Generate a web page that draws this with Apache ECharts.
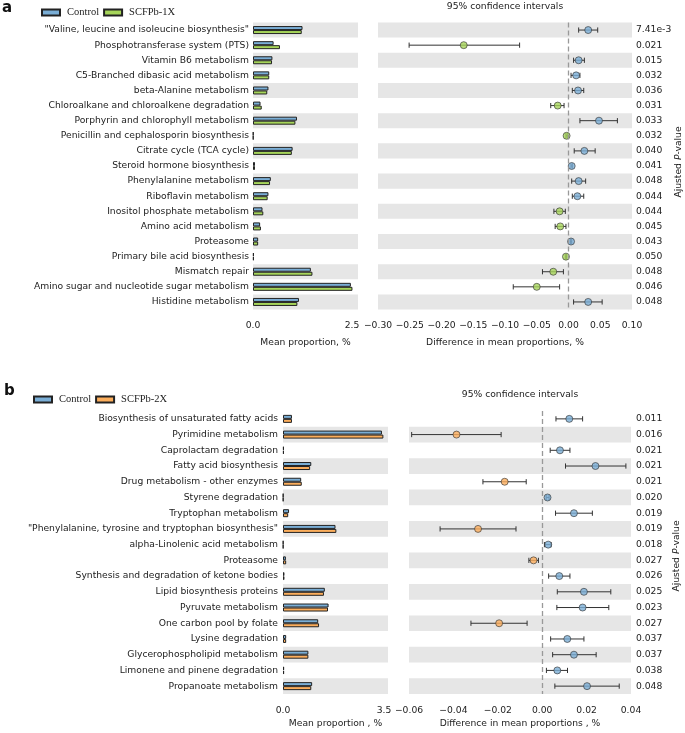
<!DOCTYPE html>
<html lang="en">
<head>
	<meta charset="UTF-8">
	<title>STAMP extended error bar</title>
	<style>
		html, body { margin: 0; padding: 0; background: #fff; }
		#chart { width: 685px; height: 733px; }
	</style>
</head>
<body>
	<div id="chart"></div>
</body>
<script src="https://cdn.jsdelivr.net/npm/echarts@6/dist/echarts.min.js"></script>
<script>

    //panel a
    var namesA = ['"Valine, leucine and isoleucine biosynthesis"', 'Phosphotransferase system (PTS)', 'Vitamin B6 metabolism',
        'C5-Branched dibasic acid metabolism', 'beta-Alanine metabolism', 'Chloroalkane and chloroalkene degradation',
        'Porphyrin and chlorophyll metabolism', 'Penicillin and cephalosporin biosynthesis', 'Citrate cycle (TCA cycle)',
        'Steroid hormone biosynthesis', 'Phenylalanine metabolism', 'Riboflavin metabolism', 'Inositol phosphate metabolism',
        'Amino acid metabolism', 'Proteasome', 'Primary bile acid biosynthesis', 'Mismatch repair',
        'Amino sugar and nucleotide sugar metabolism', 'Histidine metabolism'];
    var ctrlA = [1.25, 0.52, 0.49, 0.41, 0.39, 0.19, 1.11, 0.01, 1.00, 0.05, 0.45, 0.39, 0.24, 0.18, 0.13, 0.02, 1.46, 2.47, 1.16];
    var trtA  = [1.23, 0.68, 0.48, 0.41, 0.36, 0.22, 1.07, 0.01, 0.98, 0.05, 0.43, 0.37, 0.26, 0.20, 0.13, 0.02, 1.50, 2.51, 1.12];
    var meanA = [0.031, -0.165, 0.016, 0.012, 0.015, -0.017, 0.048, -0.003, 0.025, 0.005, 0.016, 0.014, -0.014, -0.013, 0.004, -0.004, -0.024, -0.050, 0.031];
    var loA   = [0.016, -0.251, 0.008, 0.004, 0.006, -0.028, 0.018, -0.004, 0.009, 0.004, 0.005, 0.006, -0.023, -0.021, 0.003, -0.005, -0.041, -0.087, 0.008];
    var hiA   = [0.046, -0.077, 0.025, 0.018, 0.024, -0.007, 0.077, -0.002, 0.042, 0.006, 0.027, 0.024, -0.005, -0.004, 0.005, -0.003, -0.008, -0.014, 0.053];
    var pA    = ['7.41e-3', '0.021', '0.015', '0.032', '0.036', '0.031', '0.033', '0.032', '0.040', '0.041',
        '0.048', '0.044', '0.044', '0.045', '0.043', '0.050', '0.048', '0.046', '0.048'];

    //panel b
    var namesB = ['Biosynthesis of unsaturated fatty acids', 'Pyrimidine metabolism', 'Caprolactam degradation',
        'Fatty acid biosynthesis', 'Drug metabolism - other enzymes', 'Styrene degradation', 'Tryptophan metabolism',
        '"Phenylalanine, tyrosine and tryptophan biosynthesis"', 'alpha-Linolenic acid metabolism', 'Proteasome',
        'Synthesis and degradation of ketone bodies', 'Lipid biosynthesis proteins', 'Pyruvate metabolism',
        'One carbon pool by folate', 'Lysine degradation', 'Glycerophospholipid metabolism',
        'Limonene and pinene degradation', 'Propanoate metabolism'];
    var ctrlB = [0.31, 3.43, 0.03, 0.98, 0.63, 0.01, 0.21, 1.82, 0.01, 0.10, 0.05, 1.45, 1.58, 1.22, 0.11, 0.88, 0.04, 1.01];
    var trtB  = [0.31, 3.48, 0.03, 0.94, 0.65, 0.01, 0.18, 1.85, 0.01, 0.11, 0.05, 1.42, 1.56, 1.25, 0.11, 0.88, 0.04, 0.98];
    var meanB = [0.0122, -0.0386, 0.0080, 0.0240, -0.0169, 0.0024, 0.0143, -0.0289, 0.0027, -0.0039, 0.0077, 0.0188, 0.0182, -0.0194, 0.0113, 0.0143, 0.0068, 0.0202];
    var loB   = [0.0062, -0.0588, 0.0036, 0.0105, -0.0267, 0.0018, 0.0060, -0.0460, 0.0010, -0.0060, 0.0029, 0.0068, 0.0066, -0.0321, 0.0038, 0.0047, 0.0019, 0.0057];
    var hiB   = [0.0182, -0.0185, 0.0125, 0.0377, -0.0072, 0.0031, 0.0226, -0.0118, 0.0040, -0.0017, 0.0125, 0.0309, 0.0300, -0.0068, 0.0188, 0.0243, 0.0114, 0.0347];
    var pB    = ['0.011', '0.016', '0.021', '0.021', '0.021', '0.020', '0.019', '0.019', '0.018',
        '0.027', '0.026', '0.025', '0.023', '0.027', '0.037', '0.037', '0.038', '0.048'];

    var blue = '#7aaed6', green = '#a6d55a', orange = '#fcae5c';
    var band = '#e6e6e6';
    var font = 'DejaVu Sans';
    var useMarkLine = true;

    //error bar with caps (and the dashed zero line when markLine is off)
    function ciItem(params, api) {
        var a = api.coord([api.value(0), api.value(2)]);
        var b = api.coord([api.value(1), api.value(2)]);
        var h = 2.6;
        var st = {stroke: '#333', lineWidth: 1};
        var kids = [
            {type: 'line', shape: {x1: a[0], y1: a[1], x2: b[0], y2: b[1]}, style: st},
            {type: 'line', shape: {x1: a[0], y1: a[1] - h, x2: a[0], y2: a[1] + h}, style: st},
            {type: 'line', shape: {x1: b[0], y1: b[1] - h, x2: b[0], y2: b[1] + h}, style: st}
        ];
        if (!useMarkLine) {
            var z = api.coord([0, api.value(2)]);
            var rh = api.size([0, 1])[1] / 2;
            kids.unshift({type: 'line', shape: {x1: z[0], y1: z[1] - rh, x2: z[0], y2: z[1] + rh},
                style: {stroke: '#999', lineWidth: 1.3, lineDash: [5, 3]}});
        }
        return {type: 'group', children: kids};
    }

    function fmt2(v) {
        if (Math.abs(v) < 1e-9) return '0.00';
        return (v < 0 ? '\u2212' : '') + Math.abs(v).toFixed(2);
    }

    var axisGray = {lineStyle: {color: '#999', width: 1.3}};
    var labelStyle = {color: '#222', fontSize: 9.2, fontFamily: font};

    function barX(grid, max, ticks, name, gap) {
        return {
            type: 'value', gridIndex: grid, min: 0, max: max, offset: 7,
            axisLine: axisGray,
            axisTick: {inside: true, length: 4, lineStyle: {color: '#999'}, customValues: ticks},
            axisLabel: Object.assign({margin: 5, customValues: ticks, formatter: function (v) { return v.toFixed(1); }}, labelStyle),
            splitLine: {show: false},
            name: name, nameLocation: 'middle', nameGap: gap,
            nameTextStyle: {color: '#222', fontSize: 9.2, fontFamily: font}
        };
    }

    function ciX(grid, min, max, step, name, gap) {
        return {
            type: 'value', gridIndex: grid, min: min, max: max, interval: step, offset: 7,
            axisLine: axisGray,
            axisTick: {inside: true, length: 4, lineStyle: {color: '#999'}},
            axisLabel: Object.assign({margin: 5, formatter: fmt2}, labelStyle),
            splitLine: {show: false},
            name: name, nameLocation: 'middle', nameGap: gap,
            nameTextStyle: {color: '#222', fontSize: 9.2, fontFamily: font}
        };
    }

    function catY(grid, data, colors, showLabel, margin) {
        return {
            type: 'category', gridIndex: grid, data: data, inverse: true,
            axisLine: {show: false}, axisTick: {show: false},
            axisLabel: Object.assign({show: showLabel, margin: margin, interval: 0}, labelStyle),
            splitArea: {show: true, areaStyle: {color: colors}}
        };
    }

    function pY(grid, data, margin) {
        return {
            type: 'category', gridIndex: grid, data: data, inverse: true, position: 'right',
            axisLine: {show: false}, axisTick: {show: false},
            axisLabel: Object.assign({margin: margin, interval: 0, align: 'left'}, labelStyle)
        };
    }

    function bars(name, data, color, xi, yi) {
        return {
            name: name, type: 'bar', xAxisIndex: xi, yAxisIndex: yi, data: data,
            barWidth: 4, barGap: '0%', silent: true,
            itemStyle: {color: color, borderColor: '#222', borderWidth: 1}
        };
    }

    function ciSeries(lo, hi, mean, neg, xi, yi) {
        var err = lo.map(function (v, i) { return [v, hi[i], i]; });
        var pts = mean.map(function (v, i) {
            return {value: [v, i], itemStyle: {color: v < 0 ? neg : blue}};
        });
        var sc = {
            type: 'scatter', xAxisIndex: xi, yAxisIndex: yi, data: pts, silent: true,
            symbolSize: 7, z: 3,
            itemStyle: {borderColor: '#333', borderWidth: 0.8}
        };
        if (useMarkLine) {
            sc.markLine = {
                silent: true, symbol: 'none', label: {show: false}, animation: false,
                lineStyle: {color: '#999', type: [5, 3], width: 1.3},
                data: [{xAxis: 0}]
            };
        }
        return [{
            type: 'custom', xAxisIndex: xi, yAxisIndex: yi, data: err, silent: true,
            encode: {x: [0, 1], y: 2}, renderItem: ciItem
        }, sc];
    }

    function yTitle(x, y) {
        return {
            type: 'text', x: x, y: y, rotation: Math.PI / 2,
            style: {
                text: '{a|Ajusted }{i|P}{a|-value}', align: 'center', verticalAlign: 'middle',
                rich: {
                    a: {fontSize: 9.2, fontFamily: font, fill: '#222'},
                    i: {fontSize: 9.2, fontFamily: font, fontStyle: 'italic', fill: '#222'}
                }
            }
        };
    }

    function buildOption() {
        return {
            animation: false,
            grid: [
                {left: 253, top: 22.5, width: 105, height: 287},
                {left: 378, top: 22.5, width: 254, height: 287},
                {left: 283, top: 411, width: 105, height: 283},
                {left: 409, top: 411, width: 222, height: 283}
            ],
            legend: [{
                data: ['Control', 'SCFPb-1X'], left: 36, top: 2, icon: 'rect', itemWidth: 18, itemHeight: 6,
                itemGap: 4, selectedMode: false,
                textStyle: {fontFamily: 'Liberation Serif', fontSize: 10.5, color: '#222', padding: [0, 0, 0, 2]}
            }, {
                data: ['Control', 'SCFPb-2X'], left: 28, top: 389, icon: 'rect', itemWidth: 18, itemHeight: 6,
                itemGap: 4, selectedMode: false,
                textStyle: {fontFamily: 'Liberation Serif', fontSize: 10.5, color: '#222', padding: [0, 0, 0, 2]}
            }],
            xAxis: [
                barX(0, 2.65, [0, 2.5], 'Mean proportion, %', 22),
                ciX(1, -0.30, 0.10, 0.05, 'Difference in mean proportions, %', 22),
                barX(2, 3.64, [0, 3.5], 'Mean proportion , %', 18),
                ciX(3, -0.06, 0.04, 0.02, 'Difference in mean proportions , %', 18)
            ],
            yAxis: [
                catY(0, namesA, [band, 'rgba(0,0,0,0)'], true, 4),
                catY(1, namesA, [band, 'rgba(0,0,0,0)'], false, 4),
                pY(1, pA, 4),
                catY(2, namesB, ['rgba(0,0,0,0)', band], true, 5),
                catY(3, namesB, ['rgba(0,0,0,0)', band], false, 4),
                pY(3, pB, 5)
            ],
            series: [
                bars('Control', ctrlA, blue, 0, 0),
                bars('SCFPb-1X', trtA, green, 0, 0),
                bars('Control', ctrlB, blue, 2, 3),
                bars('SCFPb-2X', trtB, orange, 2, 3)
            ].concat(ciSeries(loA, hiA, meanA, green, 1, 1))
             .concat(ciSeries(loB, hiB, meanB, orange, 3, 4)),
            graphic: [
                {type: 'text', x: 2, y: 1, style: {text: 'a', fontSize: 15, fontFamily: font, fontWeight: 'bold', fill: '#111'}},
                {type: 'text', x: 4, y: 384, style: {text: 'b', fontSize: 15, fontFamily: font, fontWeight: 'bold', fill: '#111'}},
                {type: 'text', x: 505, y: 7, style: {text: '95% confidence intervals', align: 'center', verticalAlign: 'middle',
                    fontSize: 9.2, fontFamily: font, fill: '#222'}},
                {type: 'text', x: 520, y: 395, style: {text: '95% confidence intervals', align: 'center', verticalAlign: 'middle',
                    fontSize: 9.2, fontFamily: font, fill: '#222'}},
                yTitle(679, 162),
                yTitle(677, 556)
            ]
        };
    }

    var dom = document.getElementById('chart');
    var myChart = echarts.init(dom);
    try {
        myChart.setOption(buildOption());
    } catch (e) {
        // markLine failed: redraw with the zero line drawn per row
        myChart.dispose();
        useMarkLine = false;
        myChart = echarts.init(dom);
        myChart.setOption(buildOption());
    }

</script>
</html>
